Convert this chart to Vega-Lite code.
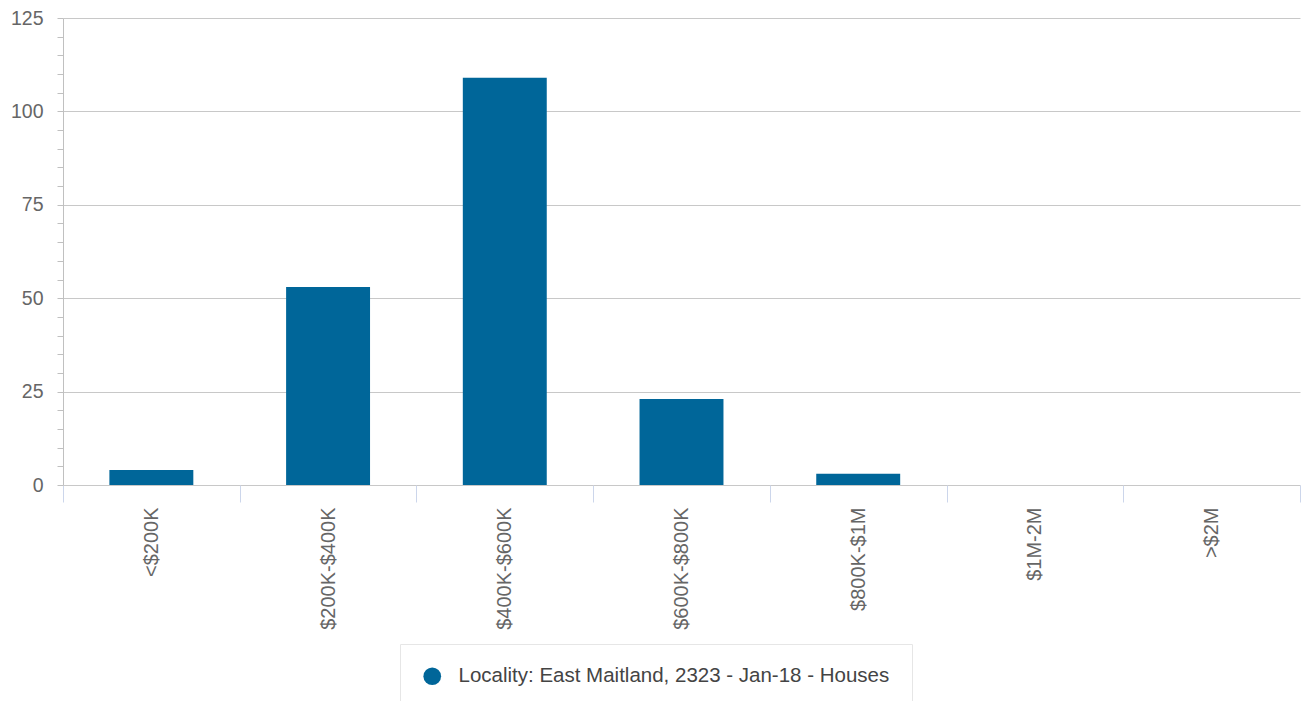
{
  "$schema": "https://vega.github.io/schema/vega-lite/v6.json",
  "autosize": "none",
  "width": 1237,
  "height": 467,
  "padding": {"left": 63, "top": 18, "right": 1, "bottom": 216},
  "background": "white",
  "config": {"view": {"stroke": null}, "font": "Liberation Sans"},
  "data": {
    "values": [
      {"range": "<$200K", "count": 4, "series": "Locality: East Maitland, 2323 - Jan-18 - Houses"},
      {"range": "$200K-$400K", "count": 53, "series": "Locality: East Maitland, 2323 - Jan-18 - Houses"},
      {"range": "$400K-$600K", "count": 109, "series": "Locality: East Maitland, 2323 - Jan-18 - Houses"},
      {"range": "$600K-$800K", "count": 23, "series": "Locality: East Maitland, 2323 - Jan-18 - Houses"},
      {"range": "$800K-$1M", "count": 3, "series": "Locality: East Maitland, 2323 - Jan-18 - Houses"},
      {"range": "$1M-2M", "count": 0, "series": "Locality: East Maitland, 2323 - Jan-18 - Houses"},
      {"range": ">$2M", "count": 0, "series": "Locality: East Maitland, 2323 - Jan-18 - Houses"}
    ]
  },
  "mark": {"type": "bar", "width": {"band": 0.475}},
  "encoding": {
    "x": {
      "field": "range",
      "type": "nominal",
      "sort": null,
      "scale": {"paddingInner": 0, "paddingOuter": 0},
      "axis": {
        "title": null,
        "labelAngle": -90,
        "tickBand": "extent",
        "tickSize": 17,
        "tickColor": "#ccd6eb",
        "domain": false,
        "grid": false,
        "labelFontSize": 20,
        "labelColor": "#666666",
        "labelPadding": 5,
        "labelLimit": 0
      }
    },
    "y": {
      "field": "count",
      "type": "quantitative",
      "scale": {"domain": [0, 125], "nice": false},
      "axis": {
        "title": null,
        "values": [0, 5, 10, 15, 20, 25, 30, 35, 40, 45, 50, 55, 60, 65, 70, 75, 80, 85, 90, 95, 100, 105, 110, 115, 120, 125],
        "labelExpr": "datum.value % 25 == 0 ? datum.label : ''",
        "labelOverlap": false,
        "grid": true,
        "gridOpacity": {"condition": {"test": "datum.value % 25 == 0", "value": 1}, "value": 0},
        "gridColor": "#c8c8c8",
        "domainColor": "#c0c0c0",
        "tickColor": "#c0c0c0",
        "tickSize": 6,
        "labelPadding": 14,
        "labelFontSize": 19.5,
        "labelColor": "#666666"
      }
    },
    "color": {
      "field": "series",
      "type": "nominal",
      "scale": {"range": ["#006699"]},
      "legend": {
        "title": null,
        "orient": "none",
        "legendX": 337,
        "legendY": 626,
        "padding": 22,
        "strokeColor": "#e6e6e6",
        "fillColor": "#ffffff",
        "symbolType": "circle",
        "symbolSize": 314,
        "symbolStrokeWidth": 0,
        "labelFontSize": 20.5,
        "labelColor": "#444444",
        "labelLimit": 0,
        "labelOffset": 16
      }
    }
  }
}
